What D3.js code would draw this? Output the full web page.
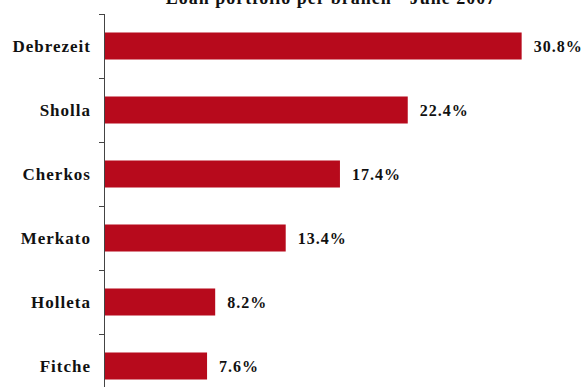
<!DOCTYPE html>
<html>
<head>
<meta charset="utf-8">
<script src="https://cdn.jsdelivr.net/npm/d3@7"></script>
<style>
body{margin:0;background:#fff}
svg{display:block}
text{font-family:"Liberation Serif",serif;font-weight:bold;fill:#111}
</style>
</head>
<body>
<div id="chart"></div>
<script>
var title = "Loan portfolio per branch - June 2007"
var branches = ["Debrezeit","Sholla","Cherkos","Merkato","Holleta","Fitche"]
var shares = [30.8,22.4,17.4,13.4,8.2,7.6]

var width = 583
var height = 387
var left = 104

var svg = d3.select("#chart").append("svg").attr("width",width).attr("height",height)

var xScale = d3.scaleLinear().domain([0,35]).range([left,left+35*13.56])
var yScale = d3.scaleBand().domain(branches).range([14,398]).paddingInner(0.578).paddingOuter(0.289)

svg.append("text").text(title)
.attr("x",331).attr("y",4)
.attr("text-anchor","middle")
.style("font-size","18px")
.style("letter-spacing","1px")

svg.selectAll(".bar")
.data(branches)
.enter()
.append("rect")
.attr("class","bar")
.attr("x",xScale(0))
.attr("y",function(d){return yScale(d)})
.attr("width",function(d,i){return xScale(shares[i])-xScale(0)})
.attr("height",yScale.bandwidth())
.attr("fill","#b70a1c")

// axis line + ticks between categories
var step = yScale.step()
var bounds = branches.map(function(d){return yScale(d)-step*yScale.paddingInner()/2})
bounds.push(bounds[bounds.length-1]+step)
svg.append("line")
.attr("x1",left+0.5).attr("x2",left+0.5)
.attr("y1",bounds[0]).attr("y2",bounds[bounds.length-1])
.attr("stroke","#444").attr("stroke-width",1)
svg.selectAll(".tick")
.data(bounds)
.enter()
.append("line")
.attr("x1",left-5).attr("x2",left)
.attr("y1",function(d){return Math.round(d)+0.5})
.attr("y2",function(d){return Math.round(d)+0.5})
.attr("stroke","#444")

svg.selectAll(".cat")
.data(branches)
.enter()
.append("text")
.attr("x",91)
.attr("y",function(d){return yScale(d)+yScale.bandwidth()/2})
.attr("dy","0.35em")
.attr("text-anchor","end")
.style("font-size","17px")
.style("letter-spacing","1px")
.text(function(d){return d})

svg.selectAll(".val")
.data(branches)
.enter()
.append("text")
.attr("x",function(d,i){return xScale(shares[i])+12})
.attr("y",function(d){return yScale(d)+yScale.bandwidth()/2})
.attr("dy","0.35em")
.style("font-size","16px")
.style("letter-spacing","1px")
.text(function(d,i){return shares[i].toFixed(1)+"%"})
</script>
</body>
</html>
